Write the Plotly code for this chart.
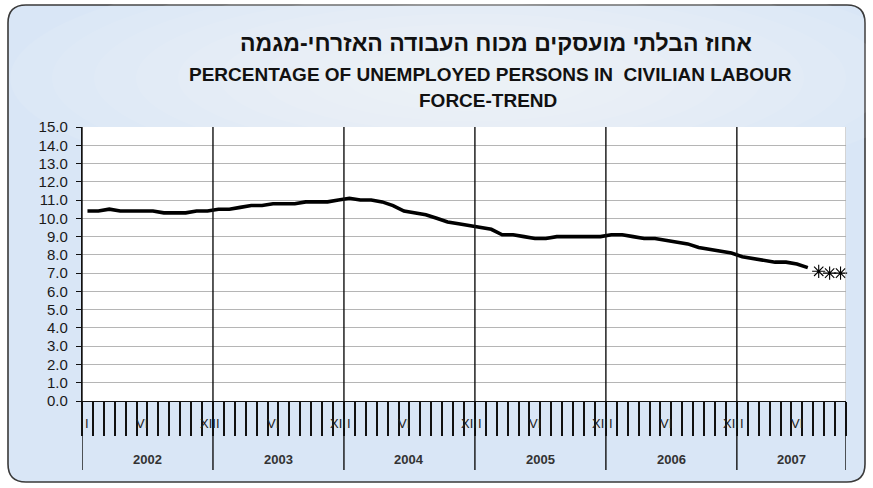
import plotly.graph_objects as go

# ---------------- data ----------------
years = [2002, 2003, 2004, 2005, 2006, 2007]
months_in_year = [12, 12, 12, 12, 12, 10]
roman_months = ["I", "II", "III", "IV", "V", "VI", "VII", "VIII", "IX", "X", "XI", "XII"]
shown_month_labels = ["I", "VI", "XII"]

trend_2002 = [10.4, 10.4, 10.5, 10.4, 10.4, 10.4, 10.4, 10.3, 10.3, 10.3, 10.4, 10.4]
trend_2003 = [10.5, 10.5, 10.6, 10.7, 10.7, 10.8, 10.8, 10.8, 10.9, 10.9, 10.9, 11.0]
trend_2004 = [11.1, 11.0, 11.0, 10.9, 10.7, 10.4, 10.3, 10.2, 10.0, 9.8, 9.7, 9.6]
trend_2005 = [9.5, 9.4, 9.1, 9.1, 9.0, 8.9, 8.9, 9.0, 9.0, 9.0, 9.0, 9.0]
trend_2006 = [9.1, 9.1, 9.0, 8.9, 8.9, 8.8, 8.7, 8.6, 8.4, 8.3, 8.2, 8.1]
trend_2007 = [7.9, 7.8, 7.7, 7.6, 7.6, 7.5, 7.3]
provisional_2007 = [7.1, 7.0, 7.0]   # VIII-X 2007, shown as asterisks

title_he = "אחוז הבלתי מועסקים מכוח העבודה האזרחי-מגמה"
title_en_1 = "PERCENTAGE OF UNEMPLOYED PERSONS IN  CIVILIAN LABOUR"
title_en_2 = "FORCE-TREND"

# ---------------- derived ----------------
categories = []
for yr, n in zip(years, months_in_year):
    for m in range(n):
        categories.append(f"{roman_months[m]} {yr}")

trend = trend_2002 + trend_2003 + trend_2004 + trend_2005 + trend_2006 + trend_2007
trend_x = categories[:len(trend)]
prov_x = categories[len(trend):len(trend) + len(provisional_2007)]

# ---------------- layout geometry (pixels) ----------------
FW, FH = 873, 488
L, R, T, B = 82, 27, 127, 87
PW, PH = FW - L - R, FH - T - B


def px_x(px):
    return (px - L) / PW


def px_y(py):
    return (FH - B - py) / PH


FONT = "Liberation Sans, Arial, sans-serif"
BLACK = "#111111"

fig = go.Figure()

fig.add_trace(go.Scatter(
    x=trend_x, y=trend, mode="lines",
    line=dict(color="black", width=3.6),
    hoverinfo="x+y", showlegend=False,
))
fig.add_trace(go.Scatter(
    x=prov_x, y=provisional_2007, mode="markers",
    marker=dict(symbol="asterisk-open", size=11,
                line=dict(color="black", width=1.1), color="black"),
    showlegend=False, cliponaxis=False,
))

shapes = []
# rounded chart frame with light blue fill
x0, y0, x1, y1, r = 8, 5, 865, 482, 18
pts = [
    ("M", (x0 + r, y0)), ("L", (x1 - r, y0)), ("Q", (x1, y0), (x1, y0 + r)),
    ("L", (x1, y1 - r)), ("Q", (x1, y1), (x1 - r, y1)), ("L", (x0 + r, y1)),
    ("Q", (x0, y1), (x0, y1 - r)), ("L", (x0, y0 + r)), ("Q", (x0, y0), (x0 + r, y0)),
]
path = ""
for item in pts:
    cmd = item[0]
    coords = " ".join(f"{px_x(p[0]):.5f},{px_y(p[1]):.5f}" for p in item[1:])
    path += f"{cmd}{coords} "
path += "Z"
shapes.append(dict(type="path", path=path, xref="paper", yref="paper",
                   fillcolor="#d9e6f6", line=dict(color="#3a3a3a", width=1.6),
                   layer="below"))
# soft glow behind the title
cx, cy = 470, 78
for k in range(10):
    f = 1 - k / 10
    rx, ry = 420 * f + 40, 105 * f + 12
    shapes.append(dict(type="circle", xref="paper", yref="paper",
                       x0=px_x(cx - rx), x1=px_x(cx + rx), y0=px_y(cy + ry), y1=px_y(cy - ry),
                       fillcolor="white", opacity=0.08, line=dict(width=0), layer="below"))
# white plot area
shapes.append(dict(type="rect", xref="paper", yref="paper", x0=0, x1=1, y0=0, y1=1,
                   fillcolor="white", line=dict(width=0), layer="below"))

# year boundary lines (through plot and down through the axis label band)
start = 0
boundaries = []
for n in months_in_year:
    boundaries.append(start)
    start += n
end_idx = start
for b in boundaries:
    shapes.append(dict(type="line", xref="x", yref="paper", x0=b - 0.5, x1=b - 0.5,
                       y0=px_y(470), y1=1, line=dict(color=BLACK, width=1.4)))
# right edge
shapes.append(dict(type="line", xref="x", yref="paper", x0=end_idx - 0.5, x1=end_idx - 0.5,
                   y0=0, y1=1, line=dict(color="#a8a8a8", width=1)))
shapes.append(dict(type="line", xref="x", yref="paper", x0=end_idx - 0.5, x1=end_idx - 0.5,
                   y0=px_y(470), y1=0, line=dict(color=BLACK, width=1.4)))

annotations = []
# titles
annotations.append(dict(text=f"<b>{title_he}</b>", xref="paper", yref="paper",
                        x=px_x(496), y=px_y(43), showarrow=False, xanchor="center", yanchor="middle",
                        font=dict(family=FONT, size=23, color="#111")))
annotations.append(dict(text=f"<b>{title_en_1}</b>", xref="paper", yref="paper",
                        x=px_x(490), y=px_y(74), showarrow=False, xanchor="center", yanchor="middle",
                        font=dict(family=FONT, size=19, color="#111")))
annotations.append(dict(text=f"<b>{title_en_2}</b>", xref="paper", yref="paper",
                        x=px_x(488), y=px_y(100), showarrow=False, xanchor="center", yanchor="middle",
                        font=dict(family=FONT, size=19, color="#111")))

# month labels and year labels
start = 0
for yr, n in zip(years, months_in_year):
    for m in range(n):
        if roman_months[m] in shown_month_labels:
            annotations.append(dict(text=roman_months[m], xref="x", yref="paper",
                                    x=f"{roman_months[m]} {yr}", y=px_y(423),
                                    showarrow=False, xanchor="center", yanchor="middle",
                                    font=dict(family=FONT, size=13, color="#222")))
    annotations.append(dict(text=f"<b>{yr}</b>", xref="x", yref="paper",
                            x=start + (n - 1) / 2, y=px_y(459),
                            showarrow=False, xanchor="center", yanchor="middle",
                            font=dict(family=FONT, size=13, color="#333")))
    start += n

fig.update_layout(
    width=FW, height=FH,
    margin=dict(l=L, r=R, t=T, b=B, pad=0),
    paper_bgcolor="white", plot_bgcolor="rgba(0,0,0,0)",
    shapes=shapes, annotations=annotations,
    showlegend=False,
    font=dict(family=FONT, color="#111"),
    xaxis=dict(
        type="category", categoryorder="array", categoryarray=categories,
        range=[-0.5, len(categories) - 0.5],
        tickmode="linear", tick0=0, dtick=1, tickson="boundaries",
        ticks="outside", ticklen=34, tickwidth=1.6, tickcolor=BLACK,
        showticklabels=False, showgrid=False, zeroline=False,
        showline=True, linecolor=BLACK, linewidth=1.4, fixedrange=True,
    ),
    yaxis=dict(
        range=[0, 15], tickmode="linear", tick0=0, dtick=1, tickformat=".1f",
        showgrid=True, gridcolor="#b5b5b5", gridwidth=1,
        ticks="outside", ticklen=5, tickcolor=BLACK, tickwidth=1,
        ticklabelstandoff=5,
        showline=True, linecolor=BLACK, linewidth=1.4, zeroline=False,
        tickfont=dict(family=FONT, size=15, color="#1a1a1a"), fixedrange=True,
    ),
)

fig.write_html("out.html", config={"displayModeBar": False},
               post_script="document.body.style.margin='0';")
